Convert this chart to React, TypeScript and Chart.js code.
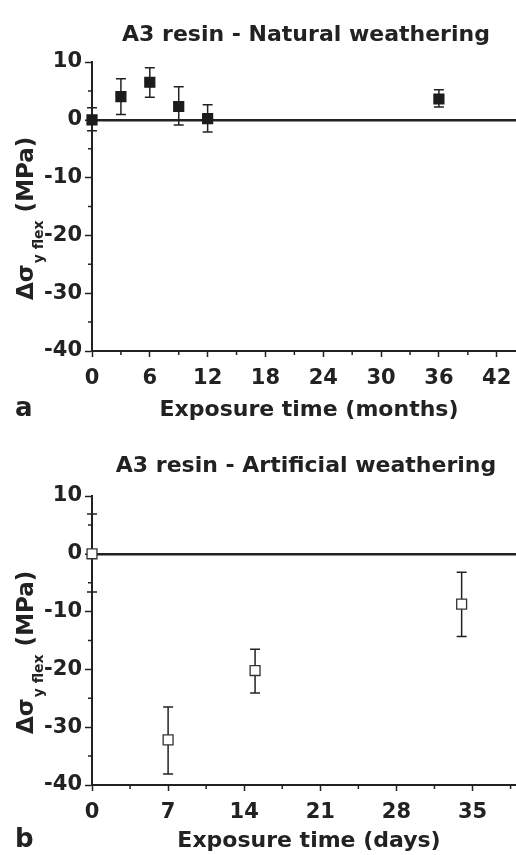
import React, { useEffect, useRef } from "react";
import { Chart, registerables } from "chart.js";

Chart.register(...registerables);

const FONT = "'DejaVu Sans', 'Liberation Sans', sans-serif";
const INK = "#222";

// ---- Panel a : natural weathering ----
const naturalTitle = "A3 resin - Natural weathering";
const naturalXTitle = "Exposure time (months)";
const naturalMonths = [0, 3, 6, 9, 12, 36];
const naturalDelta = [0, 4.0, 6.5, 2.3, 0.2, 3.6];
const naturalLow = [-1.9, 0.9, 3.9, -0.9, -2.1, 2.2];
const naturalHigh = [2.1, 7.1, 9.0, 5.7, 2.6, 5.2];
const naturalXMax = 44;
const naturalXMajor = 6;
const naturalXMinor = 3;

// ---- Panel b : artificial weathering ----
const artificialTitle = "A3 resin - Artificial weathering";
const artificialXTitle = "Exposure time (days)";
const artificialDays = [0, 7, 15, 34];
const artificialDelta = [0, -32.2, -20.2, -8.7];
const artificialLow = [-6.6, -38.1, -24.1, -14.3];
const artificialHigh = [6.9, -26.5, -16.5, -3.2];
const artificialXMax = 39;
const artificialXMajor = 7;
const artificialXMinor = 3.5;

// ---- shared y axis ----
const yMin = -40;
const yMax = 10;
const yMajor = 10;
const yMinor = 5;

const isMajor = (v: number, step: number) =>
  Math.abs(v / step - Math.round(v / step)) < 1e-6;

const errorBarPlugin = {
  id: "errorBars",
  beforeDatasetsDraw(chart: any) {
    const { ctx } = chart;
    const x = chart.scales.x;
    const y = chart.scales.y;
    chart.data.datasets.forEach((ds: any) => {
      ds.data.forEach((p: any, i: number) => {
        const px = x.getPixelForValue(p.x);
        const lo = y.getPixelForValue(ds.errLow[i]);
        const hi = y.getPixelForValue(ds.errHigh[i]);
        ctx.save();
        ctx.strokeStyle = INK;
        ctx.lineWidth = 1.5;
        ctx.beginPath();
        ctx.moveTo(px, lo);
        ctx.lineTo(px, hi);
        ctx.moveTo(px - 5, lo);
        ctx.lineTo(px + 5, lo);
        ctx.moveTo(px - 5, hi);
        ctx.lineTo(px + 5, hi);
        ctx.stroke();
        ctx.restore();
      });
    });
  },
};

const minorTickPlugin = {
  id: "minorTicks",
  afterDraw(chart: any, _args: any, opts: any) {
    const { ctx, chartArea } = chart;
    ctx.save();
    ctx.strokeStyle = INK;
    ctx.lineWidth = 1.5;
    ctx.beginPath();
    chart.scales.x.ticks.forEach((t: any) => {
      if (!isMajor(t.value, opts.xMajor)) {
        const px = chart.scales.x.getPixelForValue(t.value);
        ctx.moveTo(px, chartArea.bottom);
        ctx.lineTo(px, chartArea.bottom + 4);
      }
    });
    chart.scales.y.ticks.forEach((t: any) => {
      if (!isMajor(t.value, yMajor)) {
        const py = chart.scales.y.getPixelForValue(t.value);
        ctx.moveTo(chartArea.left, py);
        ctx.lineTo(chartArea.left - 4, py);
      }
    });
    ctx.stroke();
    ctx.restore();
  },
};

const textPlugin = {
  id: "panelText",
  afterDraw(chart: any, _args: any, opts: any) {
    const { ctx, chartArea } = chart;
    ctx.save();
    ctx.fillStyle = INK;
    ctx.textBaseline = "alphabetic";
    // title
    ctx.textAlign = "center";
    ctx.font = `bold 22px ${FONT}`;
    ctx.fillText(opts.title, (chartArea.left + chartArea.right) / 2 + 2, opts.titleY);
    // x title
    ctx.font = `bold 22px ${FONT}`;
    ctx.fillText(opts.xTitle, (chartArea.left + chartArea.right) / 2 + 5, opts.xTitleY);
    // panel letter
    ctx.textAlign = "left";
    ctx.font = `bold 26px ${FONT}`;
    ctx.fillText(opts.letter, 15, opts.xTitleY);
    // y title (rotated, with subscript)
    ctx.translate(33, opts.yTitleStart);
    ctx.rotate(-Math.PI / 2);
    ctx.font = `bold 23px ${FONT}`;
    ctx.fillText("Δσ", 0, 0);
    let w = ctx.measureText("Δσ").width;
    ctx.font = `bold 14px ${FONT}`;
    ctx.fillText("y flex", w + 1, 10);
    w += 1 + ctx.measureText("y flex").width;
    ctx.font = `bold 23px ${FONT}`;
    ctx.fillText(" (MPa)", w, 0);
    ctx.restore();
  },
};

function makeConfig(p: {
  xs: number[];
  ys: number[];
  lo: number[];
  hi: number[];
  xMax: number;
  xMajor: number;
  xMinor: number;
  filled: boolean;
  height: number;
  title: string;
  xTitle: string;
  letter: string;
  titleY: number;
  xTitleY: number;
}): any {
  const plotTop = 62;
  const plotBottom = 351;
  return {
    type: "scatter",
    data: {
      datasets: [
        {
          data: p.xs.map((x, i) => ({ x, y: p.ys[i] })),
          errLow: p.lo,
          errHigh: p.hi,
          pointStyle: "rect",
          pointRadius: 7,
          pointHoverRadius: 7,
          backgroundColor: p.filled ? "#1c1c1c" : "#ffffff",
          borderColor: p.filled ? "#1c1c1c" : "#333",
          borderWidth: 1.3,
          clip: false,
        },
      ],
    },
    options: {
      animation: false,
      responsive: false,
      maintainAspectRatio: false,
      events: [],
      layout: {
        autoPadding: false,
        padding: { top: plotTop, left: 0, right: 0, bottom: 0 },
      },
      plugins: {
        legend: { display: false },
        tooltip: { enabled: false },
        title: { display: false },
        minorTicks: { xMajor: p.xMajor },
        panelText: {
          title: p.title,
          xTitle: p.xTitle,
          letter: p.letter,
          titleY: p.titleY,
          xTitleY: p.xTitleY,
          yTitleStart: 300,
        },
      },
      scales: {
        x: {
          type: "linear",
          min: 0,
          max: p.xMax,
          afterFit: (s: any) => {
            s.height = p.height - plotBottom;
            s.paddingLeft = 0;
            s.paddingRight = 0;
          },
          border: { display: true, color: INK, width: 2 },
          grid: {
            drawOnChartArea: false,
            drawTicks: true,
            tickLength: 6,
            tickWidth: 1.5,
            tickColor: (c: any) =>
              c.tick && isMajor(c.tick.value, p.xMajor) ? INK : "rgba(0,0,0,0)",
          },
          ticks: {
            stepSize: p.xMinor,
            autoSkip: false,
            includeBounds: false,
            maxRotation: 0,
            padding: 9,
            color: INK,
            font: { family: FONT, weight: "bold", size: 21 },
            callback: (v: number) => (isMajor(v, p.xMajor) ? String(v) : ""),
          },
        },
        y: {
          type: "linear",
          min: yMin,
          max: yMax,
          afterFit: (s: any) => {
            s.width = 92;
          },
          border: { display: true, color: INK, width: 2 },
          grid: {
            drawOnChartArea: true,
            drawTicks: true,
            tickLength: 7,
            tickWidth: 1.5,
            color: (c: any) =>
              c.tick && c.tick.value === 0 ? INK : "rgba(0,0,0,0)",
            lineWidth: (c: any) => (c.tick && c.tick.value === 0 ? 2.5 : 1),
            tickColor: (c: any) =>
              c.tick && isMajor(c.tick.value, yMajor) ? INK : "rgba(0,0,0,0)",
          },
          ticks: {
            stepSize: yMinor,
            autoSkip: false,
            padding: 3,
            color: INK,
            font: { family: FONT, weight: "bold", size: 21 },
            callback: (v: number) => (isMajor(v, yMajor) ? String(v) : ""),
          },
        },
      },
    },
    plugins: [errorBarPlugin, minorTickPlugin, textPlugin],
  };
}

function Panel(props: { config: any; top: number; height: number }) {
  const ref = useRef<HTMLCanvasElement | null>(null);
  useEffect(() => {
    if (!ref.current) return;
    const chart = new Chart(ref.current, props.config);
    return () => chart.destroy();
  }, []);
  return (
    <canvas
      ref={ref}
      width={516}
      height={props.height}
      style={{
        position: "absolute",
        left: 0,
        top: props.top,
        width: 516,
        height: props.height,
        display: "block",
      }}
    />
  );
}

export default function App() {
  const topH = 434;
  const botH = 421;
  const natural = makeConfig({
    xs: naturalMonths,
    ys: naturalDelta,
    lo: naturalLow,
    hi: naturalHigh,
    xMax: naturalXMax,
    xMajor: naturalXMajor,
    xMinor: naturalXMinor,
    filled: true,
    height: topH,
    title: naturalTitle,
    xTitle: naturalXTitle,
    letter: "a",
    titleY: 41,
    xTitleY: 416,
  });
  const artificial = makeConfig({
    xs: artificialDays,
    ys: artificialDelta,
    lo: artificialLow,
    hi: artificialHigh,
    xMax: artificialXMax,
    xMajor: artificialXMajor,
    xMinor: artificialXMinor,
    filled: false,
    height: botH,
    title: artificialTitle,
    xTitle: artificialXTitle,
    letter: "b",
    titleY: 38,
    xTitleY: 413,
  });
  return (
    <div
      style={{
        position: "absolute",
        left: 0,
        top: 0,
        width: 516,
        height: 855,
        background: "#fff",
        overflow: "hidden",
      }}
    >
      <Panel config={natural} top={0} height={topH} />
      <Panel config={artificial} top={434} height={botH} />
    </div>
  );
}
